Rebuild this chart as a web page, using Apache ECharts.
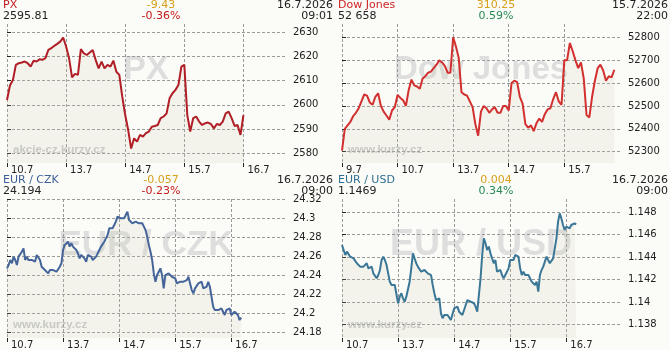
<!DOCTYPE html>
<html><head><meta charset="utf-8">
<script src="https://cdn.jsdelivr.net/npm/echarts@6/dist/echarts.min.js"></script>
<style>html,body{margin:0;padding:0;background:#fbfbf8}#c{width:670px;height:350px}</style>
</head><body><div id="c"></div><script>
// ---------- data ----------
const pxDays = ['10.7', '13.7', '14.7', '15.7', '16.7'];
const pxTicks = [2580, 2590, 2600, 2610, 2620, 2630];
const pxPointsPerDay = 20;
const pxValues = [
  2602.0, 2608.0, 2610.3, 2616.5, 2617.2, 2617.5, 2617.9, 2617.2, 2615.8, 2618.2, 2617.9, 2618.8, 2618.6, 2619.3, 2622.7, 2623.4, 2624.4, 2625.2, 2626.1, 2627.8,
  2624.1, 2619.3, 2611.4, 2612.8, 2612.4, 2623.0, 2621.3, 2620.6, 2621.6, 2622.7, 2618.6, 2615.1, 2617.9, 2615.1, 2616.5, 2615.8, 2618.3, 2613.7, 2612.4, 2603.4,
  2595.8, 2589.6, 2582.0, 2586.2, 2584.8, 2587.6, 2586.9, 2588.3, 2589.0, 2591.0, 2591.3, 2591.7, 2594.5, 2595.2, 2596.5, 2602.7, 2604.8, 2606.2, 2608.2, 2615.8,
  2616.5, 2595.8, 2589.0, 2594.5, 2595.2, 2593.1, 2591.7, 2592.4, 2592.7, 2592.1, 2590.3, 2592.1, 2591.7, 2593.1, 2596.5, 2597.2, 2594.5, 2591.3, 2591.7, 2587.6,
  2595.8
];

const djDays = ['9.7', '10.7', '13.7', '14.7', '15.7'];
const djTicks = [52300, 52400, 52500, 52600, 52700, 52800];
const djPointsPerDay = 20;
const djValues = [
  52305, 52400, 52415, 52430, 52455, 52470, 52490, 52520, 52550, 52545, 52515, 52505, 52540, 52555, 52500, 52475, 52458, 52440, 52480, 52495,
  52548, 52535, 52525, 52500, 52570, 52615, 52590, 52585, 52575, 52620, 52630, 52645, 52650, 52665, 52680, 52700, 52690, 52675, 52645, 52645,
  52800, 52760, 52710, 52560, 52550, 52545, 52520, 52495, 52420, 52370, 52475, 52500, 52490, 52470, 52485, 52495, 52470, 52470, 52500, 52500,
  52480, 52600, 52610, 52605, 52540, 52510, 52420, 52405, 52415, 52390, 52425, 52445, 52430, 52465, 52485, 52490, 52530, 52560, 52520, 52505,
  52700, 52700, 52775, 52740, 52700, 52665, 52690, 52620, 52460, 52450, 52540, 52610, 52665, 52680, 52655, 52610, 52630, 52625, 52658
];

const czkDays = ['10.7', '13.7', '14.7', '15.7', '16.7'];
const czkTicks = [24.18, 24.20, 24.22, 24.24, 24.26, 24.28, 24.30, 24.32];
const czkPointsPerDay = 34;
const czkValues = [
  24.2475, 24.2510, 24.2563, 24.2528, 24.2598, 24.2563, 24.2510, 24.2598, 24.2580, 24.2650, 24.2685, 24.2563, 24.2598, 24.2563, 24.2580, 24.2563, 24.2580,
  24.2545, 24.2615, 24.2615, 24.2563, 24.2492, 24.2475, 24.2457, 24.2457, 24.2422, 24.2457, 24.2440, 24.2457, 24.2440, 24.2440, 24.2440, 24.2492, 24.2528,
  24.2668, 24.2720, 24.2703, 24.2755, 24.2703, 24.2738, 24.2703, 24.2703, 24.2668, 24.2633, 24.2580, 24.2615, 24.2633, 24.2580, 24.2545, 24.2615, 24.2633,
  24.2598, 24.2563, 24.2563, 24.2598, 24.2615, 24.2668, 24.2703, 24.2720, 24.2755, 24.2790, 24.2825, 24.2895, 24.2878, 24.2895, 24.2930, 24.2965, 24.3018,
  24.3035, 24.3000, 24.3018, 24.3000, 24.3035, 24.3070, 24.2983, 24.2965, 24.2948, 24.2930, 24.2965, 24.2983, 24.2948, 24.2965, 24.2948, 24.2913, 24.2878,
  24.2808, 24.2720, 24.2650, 24.2563, 24.2422, 24.2335, 24.2405, 24.2440, 24.2475, 24.2405, 24.2265, 24.2405, 24.2422, 24.2422, 24.2405, 24.2387, 24.2377,
  24.2370, 24.2317, 24.2300, 24.2335, 24.2317, 24.2335, 24.2317, 24.2352, 24.2387, 24.2317, 24.2247, 24.2212, 24.2265, 24.2282, 24.2317, 24.2300, 24.2335,
  24.2265, 24.2247, 24.2282, 24.2335, 24.2282, 24.2177, 24.2072, 24.2037, 24.2020, 24.2037, 24.2055, 24.2055, 24.2020, 24.1985, 24.2037, 24.2020, 24.2055,
  24.1985, 24.1967, 24.2020, 24.2002, 24.1985, 24.1932, 24.1960
];

const usdDays = ['10.7', '13.7', '14.7', '15.7', '16.7'];
const usdTicks = [1.138, 1.140, 1.142, 1.144, 1.146, 1.148];
const usdPointsPerDay = 34;
const usdValues = [
  1.14508, 1.14464, 1.14419, 1.14449, 1.14434, 1.14404, 1.14419, 1.14389, 1.14404, 1.14345, 1.14330, 1.14315, 1.14330, 1.14315, 1.14330, 1.14345, 1.14300,
  1.14285, 1.14315, 1.14255, 1.14240, 1.14211, 1.14240, 1.14285, 1.14374, 1.14404, 1.14374, 1.14330, 1.14255, 1.14181, 1.14151, 1.14166, 1.14151, 1.14166,
  1.13988, 1.14047, 1.14077, 1.14032, 1.14002, 1.14047, 1.14032, 1.14181, 1.14300, 1.14434, 1.14389, 1.14345, 1.14315, 1.14330, 1.14270, 1.14285, 1.14285,
  1.14300, 1.14255, 1.14270, 1.14240, 1.14151, 1.14077, 1.14017, 1.14002, 1.14032, 1.13898, 1.13854, 1.13883, 1.13868, 1.13883, 1.13868, 1.13839, 1.13854,
  1.13943, 1.13928, 1.13958, 1.13913, 1.13898, 1.13883, 1.13928, 1.13973, 1.14017, 1.14032, 1.14002, 1.14017, 1.13988, 1.13958, 1.13913, 1.14062, 1.14211,
  1.14419, 1.14568, 1.14523, 1.14464, 1.14494, 1.14434, 1.14389, 1.14345, 1.14374, 1.14270, 1.14255, 1.14285, 1.14240, 1.14211, 1.14240, 1.14240, 1.14300,
  1.14374, 1.14389, 1.14374, 1.14419, 1.14434, 1.14404, 1.14300, 1.14240, 1.14270, 1.14240, 1.14255, 1.14240, 1.14211, 1.14181, 1.14166, 1.14151, 1.14181,
  1.14092, 1.14240, 1.14285, 1.14315, 1.14360, 1.14404, 1.14374, 1.14345, 1.14360, 1.14389, 1.14389, 1.14568, 1.14717, 1.14791, 1.14746, 1.14687, 1.14642,
  1.14672, 1.14687, 1.14657, 1.14687, 1.14672, 1.14702, 1.14693
];

// header texts
const names = ['PX', 'Dow Jones', 'EUR / CZK', 'EUR / USD'];
const lastValues = ['2595.81', '52 658', '24.194', '1.1469'];
const changeAbs = ['-9.43', '310.25', '-0.057', '0.004'];
const changePct = ['-0.36%', '0.59%', '-0.23%', '0.34%'];
const dates = ['16.7.2026', '15.7.2026', '16.7.2026', '16.7.2026'];
const times = ['09:01', '22:00', '09:00', '09:00'];
const sources = ['akcie-cz.kurzy.cz', 'www.kurzy.cz', 'www.kurzy.cz', 'www.kurzy.cz'];

// ---------- styling / layout ----------
const panels = [
  {ox: 0,   oy: 0,   days: pxDays,  ticks: pxTicks,  values: pxValues,  ppd: pxPointsPerDay,  ymin: 2576.0, ymax: 2633.4, xmax: 4.72, dec: 0,
   nameColor: '#c01a1e', line: '#b01e26', pctColor: '#c41a1a', wm: 34},
  {ox: 335, oy: 0,   days: djDays,  ticks: djTicks,  values: djValues,  ppd: djPointsPerDay,  ymin: 52250.6, ymax: 52858, xmax: 5.02, dec: 0,
   nameColor: '#cc2424', line: '#d2302f', pctColor: '#2a8a55', wm: 33},
  {ox: 0,   oy: 175, days: czkDays, ticks: czkTicks, values: czkValues, ppd: czkPointsPerDay, ymin: 24.1744, ymax: 24.3203, xmax: 4.975, dec: 2,
   nameColor: '#3d6099', line: '#45659a', pctColor: '#c41a1a', wm: 35},
  {ox: 335, oy: 175, days: usdDays, ticks: usdTicks, values: usdValues, ppd: usdPointsPerDay, ymin: 1.13678, ymax: 1.14919, xmax: 4.975, dec: 3,
   nameColor: '#2f6f92', line: '#3a7797', pctColor: '#2a8a55', wm: 36}
];

const FONT = '"DejaVu Sans", Verdana, sans-serif';
const grid = [], xAxis = [], yAxis = [], series = [], graphic = [];
const gridLine = {show: true, lineStyle: {color: '#9a9a9a', type: [3, 2], width: 1}};

panels.forEach((p, k) => {
  grid.push({left: p.ox + 7, top: p.oy + 24, width: 279, height: 139});
  const dayIdx = p.days.map((d, i) => i);
  xAxis.push({
    type: 'value', gridIndex: k, min: 0, max: p.xmax,
    axisLine: {show: false},
    axisTick: {show: true, length: 4, lineStyle: {color: '#222'}, customValues: dayIdx},
    splitLine: gridLine,
    axisLabel: {customValues: dayIdx, formatter: v => p.days[Math.round(v)], align: 'left',
      padding: [0, 0, 0, 4], margin: 2, fontSize: 10, color: '#222', fontFamily: FONT}
  });
  yAxis.push({
    type: 'value', gridIndex: k, position: 'right', min: p.ymin, max: p.ymax,
    axisLine: {show: false},
    axisTick: {show: true, length: 4, lineStyle: {color: '#222'}, customValues: p.ticks},
    splitLine: gridLine,
    axisLabel: {customValues: p.ticks, formatter: v => String(+v.toFixed(p.dec)),
      margin: 7, fontSize: 10, color: '#222', fontFamily: FONT}
  });
  series.push({
    type: 'line', xAxisIndex: k, yAxisIndex: k, showSymbol: false, z: 3,
    data: p.values.map((v, i) => [i / p.ppd, v]),
    lineStyle: {color: p.line, width: 2},
    areaStyle: {color: 'rgba(211,211,184,0.25)'},
    animation: false
  });
  // watermark
  graphic.push({type: 'text', z: 0, x: p.ox + 146, y: p.oy + 70,
    style: {text: names[k], fill: '#dedede', font: 'bold ' + p.wm + 'px "Liberation Sans", Arial, sans-serif',
      align: 'center', verticalAlign: 'middle'}});
  graphic.push({type: 'text', z: 0, x: p.ox + 13, y: p.oy + 150,
    style: {text: sources[k], fill: '#c8c8c8', font: 'bold 11.5px "Liberation Sans", Arial, sans-serif',
      align: 'left', verticalAlign: 'middle'}});
  // header
  const hdr = (text, x, y, fill, align) => graphic.push({type: 'text', z: 10, x: p.ox + x, y: p.oy + y,
    style: {text, fill, font: '11px ' + FONT, align, verticalAlign: 'top'}});
  hdr(names[k], 3, 0, p.nameColor, 'left');
  hdr(lastValues[k], 3, 11, '#222', 'left');
  hdr(changeAbs[k], 161, 0, '#d6a11c', 'center');
  hdr(changePct[k], 161, 11, p.pctColor, 'center');
  hdr(dates[k], 333, 0, '#222', 'right');
  hdr(times[k], 333, 11, '#222', 'right');
});

const chart = echarts.init(document.getElementById('c'), null, {renderer: 'canvas'});
chart.setOption({
  backgroundColor: '#fbfbf8',
  animation: false,
  grid, xAxis, yAxis, series, graphic
});
</script></body></html>
